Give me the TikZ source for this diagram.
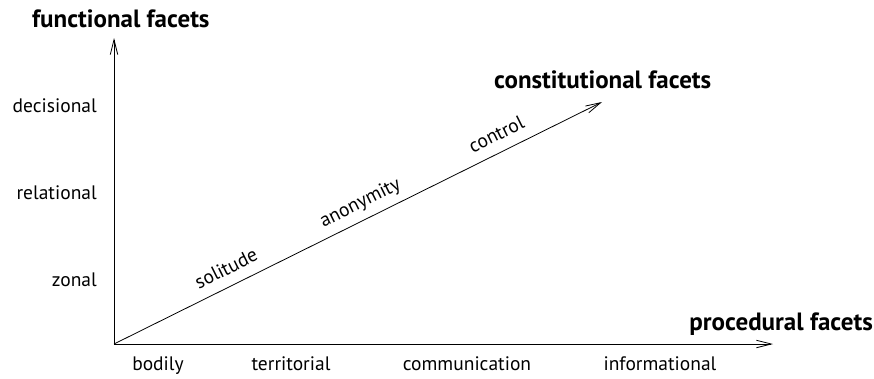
\documentclass[tikz,border=0pt]{standalone}
\usepackage{fontspec}
\setmainfont{PT Sans}
\usetikzlibrary{arrows.meta}
\begin{document}
\begin{tikzpicture}[x=1pt,y=-1pt,
  axis/.style={draw=black,line width=0.8pt,-{Straight Barb[length=15pt,width=7.5pt,line width=0.8pt]}},
  title/.style={font=\fontsize{25}{28}\selectfont\bfseries,inner sep=0pt},
  tick/.style={font=\fontsize{19.5}{22}\selectfont,inner sep=0pt},
  facet/.style={font=\fontsize{19.5}{22}\selectfont,text depth=0pt,inner sep=11pt,sloped,above}]
\useasboundingbox (0,0) rectangle (874,378);
\coordinate (o) at (114,344);
\coordinate (ytop) at (114,38);
\coordinate (xend) at (773,344);
\coordinate (dend) at (602,102);
\draw[axis] (o) -- (ytop);
\draw[axis] (o) -- (xend);
\draw[axis] (o) -- (dend)
  node[facet,pos=0.246] (sol) {solitude}
  node[facet,pos=0.52] (ano) {anonymity}
  node[facet,pos=0.80] (ctl) {control};
\node[title,anchor=base west] (ft) at (32,27) {functional facets};
\node[title,anchor=base west] (ct) at (494,88) {constitutional facets};
\node[title,anchor=base east] (pt) at (873,330) {procedural facets};
\node[tick,anchor=base east] (dec) at (97,112) {decisional};
\node[tick,anchor=base east] (rel) at (97,199) {relational};
\node[tick,anchor=base east] (zon) at (97,286) {zonal};
\node[tick,anchor=base] (bod) at (158,370) {bodily};
\node[tick,anchor=base] (ter) at (291,370) {territorial};
\node[tick,anchor=base] (com) at (467,370) {communication};
\node[tick,anchor=base] (inf) at (660,370) {informational};
\end{tikzpicture}
\end{document}
